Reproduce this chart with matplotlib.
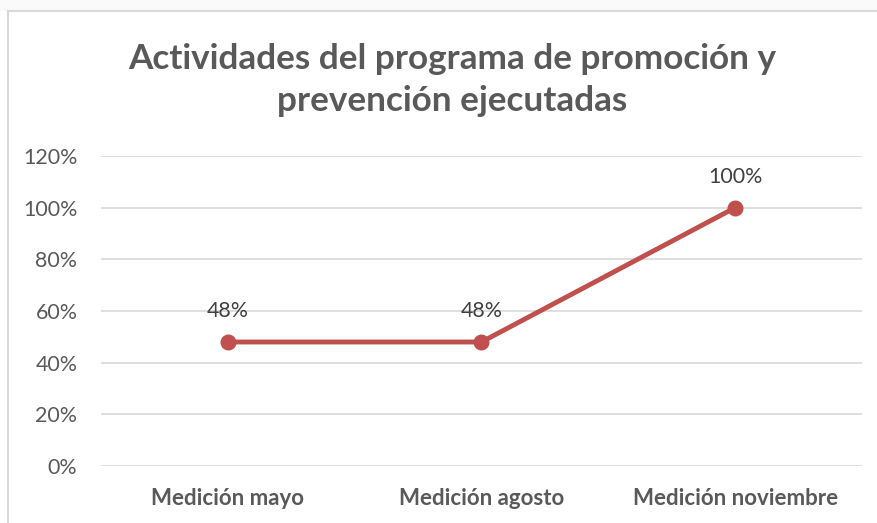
import matplotlib
matplotlib.use("Agg")
import matplotlib.pyplot as plt
from matplotlib.lines import Line2D
from matplotlib.patches import Rectangle

categories = ["Medición mayo", "Medición agosto", "Medición noviembre"]
values = [0.48, 0.48, 1.00]
labels = ["48%", "48%", "100%"]
yticks = [0, 0.2, 0.4, 0.6, 0.8, 1.0, 1.2]
ytick_labels = ["0%", "20%", "40%", "60%", "80%", "100%", "120%"]
title = "Actividades del programa de promoción y\nprevención ejecutadas"

plt.rcParams['font.family'] = ['Lato', 'DejaVu Sans']

fig = plt.figure(figsize=(8.78, 5.23), dpi=100)
W, H = 878, 523
# light strip above the chart frame
fig.patches.append(Rectangle((0, 1 - 11 / H), 1, 11 / H, transform=fig.transFigure,
                             facecolor="#fafafa", edgecolor="none", zorder=0))
fig.lines.append(Line2D([8 / W, 8 / W], [0, 1 - 11 / H], transform=fig.transFigure,
                        color="#d9d9d9", lw=1.5))
fig.lines.append(Line2D([8 / W, 1], [1 - 11 / H, 1 - 11 / H], transform=fig.transFigure,
                        color="#d9d9d9", lw=1.5))

ax = fig.add_axes([101 / W, 1 - 466 / H, (862 - 101) / W, (466 - 156) / H])
x = list(range(len(categories)))
ax.plot(x, values, color="#C0504D", lw=3.5, marker="o", ms=10.5, zorder=3, clip_on=False)
for xi, v, lab in zip(x, values, labels):
    ax.annotate(lab, (xi, v), xytext=(0, 15), textcoords="offset points",
                ha="center", va="bottom", fontsize=15.4, color="#404040")

ax.set_xlim(-0.5, 2.5)
ax.set_ylim(0, 1.2)
ax.set_yticks(yticks)
ax.set_yticklabels(ytick_labels, fontsize=15.4, color="#595959")
ax.set_xticks(x)
ax.set_xticklabels(categories, fontsize=16, fontweight="bold", color="#595959")
ax.tick_params(axis="both", length=0)
ax.tick_params(axis="y", pad=17)
ax.tick_params(axis="x", pad=16)
ax.grid(axis="y", color="#d9d9d9", lw=1.2)
ax.set_axisbelow(True)
for s in ax.spines.values():
    s.set_visible(False)

fig.text(452 / W, 1 - 80 / H, title, ha="center", va="center", fontsize=25.3,
         fontweight="bold", color="#595959", linespacing=1.4)

fig.savefig("out.png", dpi=100)
